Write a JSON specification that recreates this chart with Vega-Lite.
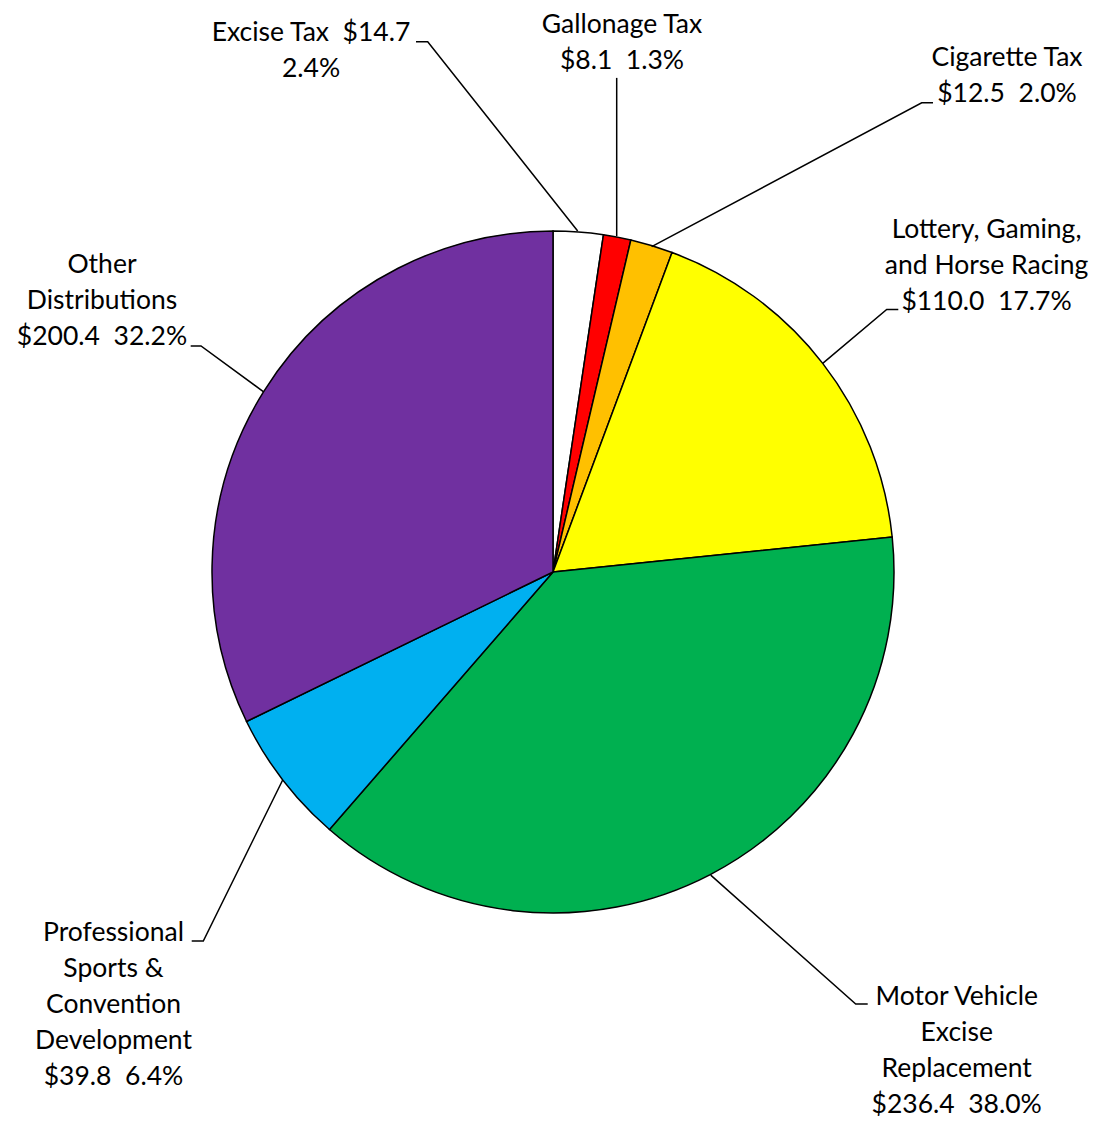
{
  "$schema": "https://vega.github.io/schema/vega-lite/v6.json",
  "width": 1082,
  "height": 1100,
  "autosize": "none",
  "padding": {"left": 12, "top": 22, "right": 0, "bottom": 0},
  "background": "white",
  "config": {"view": {"stroke": null}},
  "datasets": {
    "slices": [
      {"category": "Excise Tax", "amount": 14.7, "pct": 2.4, "order": 1},
      {"category": "Gallonage Tax", "amount": 8.1, "pct": 1.3, "order": 2},
      {"category": "Cigarette Tax", "amount": 12.5, "pct": 2.0, "order": 3},
      {"category": "Lottery, Gaming, and Horse Racing", "amount": 110.0, "pct": 17.7, "order": 4},
      {"category": "Motor Vehicle Excise Replacement", "amount": 236.4, "pct": 38.0, "order": 5},
      {"category": "Professional Sports & Convention Development", "amount": 39.8, "pct": 6.4, "order": 6},
      {"category": "Other Distributions", "amount": 200.4, "pct": 32.2, "order": 7}
    ],
    "labels": [
      {"category": "Excise Tax", "lines": ["Excise Tax\u00a0 $14.7", "2.4%"], "x": -70.97, "y": 158.06},
      {"category": "Gallonage Tax", "lines": ["Gallonage Tax", "$8.1\u00a0 1.3%"], "x": 20.23, "y": 160.41},
      {"category": "Cigarette Tax", "lines": ["Cigarette Tax", "$12.5\u00a0 2.0%"], "x": 133.14, "y": 150.73},
      {"category": "Lottery, Gaming, and Horse Racing", "lines": ["Lottery, Gaming,", "and Horse Racing", "$110.0\u00a0 17.7%"], "x": 127.13, "y": 100.29},
      {"category": "Motor Vehicle Excise Replacement", "lines": ["Motor Vehicle", "Excise", "Replacement", "$236.4\u00a0 38.0%"], "x": 118.39, "y": -124.55},
      {"category": "Professional Sports & Convention Development", "lines": ["Professional", "Sports &", "Convention", "Development", "$39.8\u00a0 6.4%"], "x": -128.89, "y": -105.95},
      {"category": "Other Distributions", "lines": ["Other", "Distributions", "$200.4\u00a0 32.2%"], "x": -132.26, "y": 90.03}
    ],
    "leaders": [
      {"category": "Excise Tax", "seq": 1, "x": 7.24, "y": 100.0},
      {"category": "Excise Tax", "seq": 2, "x": -36.74, "y": 155.5},
      {"category": "Excise Tax", "seq": 3, "x": -40.18, "y": 155.5},
      {"category": "Gallonage Tax", "seq": 1, "x": 18.68, "y": 98.5},
      {"category": "Gallonage Tax", "seq": 2, "x": 18.68, "y": 144.9},
      {"category": "Cigarette Tax", "seq": 1, "x": 28.94, "y": 95.4},
      {"category": "Cigarette Tax", "seq": 2, "x": 108.12, "y": 137.6},
      {"category": "Cigarette Tax", "seq": 3, "x": 111.44, "y": 137.6},
      {"category": "Lottery, Gaming, and Horse Racing", "seq": 1, "x": 79.09, "y": 61.2},
      {"category": "Lottery, Gaming, and Horse Racing", "seq": 2, "x": 97.86, "y": 77.0},
      {"category": "Lottery, Gaming, and Horse Racing", "seq": 3, "x": 101.26, "y": 77.0},
      {"category": "Motor Vehicle Excise Replacement", "seq": 1, "x": 46.25, "y": -88.9},
      {"category": "Motor Vehicle Excise Replacement", "seq": 2, "x": 88.77, "y": -126.7},
      {"category": "Motor Vehicle Excise Replacement", "seq": 3, "x": 92.29, "y": -126.7},
      {"category": "Professional Sports & Convention Development", "seq": 1, "x": -79.27, "y": -61.0},
      {"category": "Professional Sports & Convention Development", "seq": 2, "x": -102.55, "y": -108.2},
      {"category": "Professional Sports & Convention Development", "seq": 3, "x": -105.95, "y": -108.2},
      {"category": "Other Distributions", "seq": 1, "x": -84.96, "y": 52.9},
      {"category": "Other Distributions", "seq": 2, "x": -103.23, "y": 66.3},
      {"category": "Other Distributions", "seq": 3, "x": -106.25, "y": 66.3}
    ]
  },
  "layer": [
    {
      "data": {"name": "slices"},
      "mark": {"type": "arc", "outerRadius": 341, "stroke": "black", "strokeWidth": 1.5},
      "encoding": {
        "theta": {"field": "amount", "type": "quantitative", "stack": true},
        "order": {"field": "order", "type": "quantitative"},
        "color": {
          "field": "category",
          "type": "nominal",
          "legend": null,
          "scale": {
            "domain": ["Excise Tax", "Gallonage Tax", "Cigarette Tax", "Lottery, Gaming, and Horse Racing", "Motor Vehicle Excise Replacement", "Professional Sports & Convention Development", "Other Distributions"],
            "range": ["#FFFFFF", "#FF0000", "#FFC000", "#FFFF00", "#00B050", "#00B0F0", "#7030A0"]
          }
        }
      }
    },
    {
      "data": {"name": "leaders"},
      "mark": {"type": "line", "stroke": "black", "strokeWidth": 1.5},
      "encoding": {
        "x": {"field": "x", "type": "quantitative", "axis": null, "scale": {"domain": [-158.65, 158.65], "nice": false, "zero": false}},
        "y": {"field": "y", "type": "quantitative", "axis": null, "scale": {"domain": [-161.29, 161.29], "nice": false, "zero": false}},
        "detail": {"field": "category", "type": "nominal"},
        "order": {"field": "seq", "type": "quantitative"}
      }
    },
    {
      "data": {"name": "labels"},
      "mark": {"type": "text", "font": "Lato", "fontSize": 26.5, "lineHeight": 36, "align": "center", "baseline": "middle", "color": "black"},
      "encoding": {
        "x": {"field": "x", "type": "quantitative"},
        "y": {"field": "y", "type": "quantitative"},
        "text": {"field": "lines"}
      }
    }
  ]
}
